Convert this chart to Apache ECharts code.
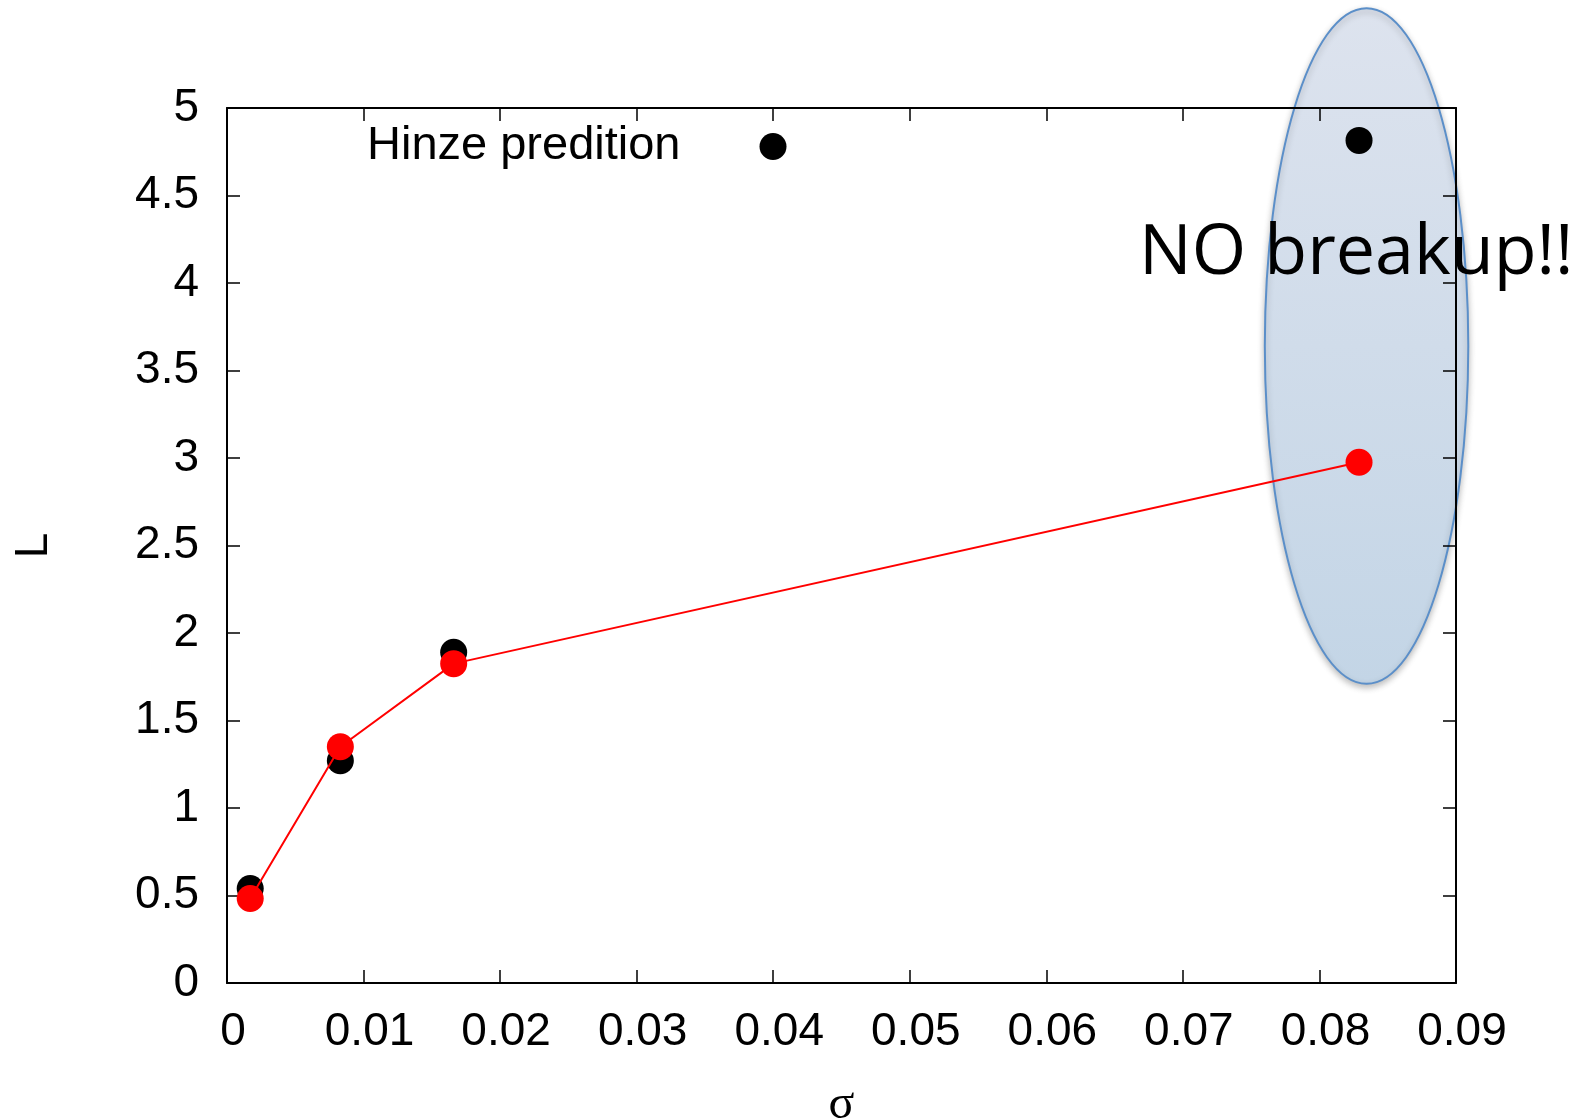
<!DOCTYPE html>
<html>
<head>
<meta charset="utf-8">
<script src="https://cdn.jsdelivr.net/npm/echarts@6/dist/echarts.min.js"></script>
<style>
  html, body { margin: 0; padding: 0; background: #ffffff; }
  #chart { width: 1586px; height: 1120px; }
</style>
</head>
<body>
<div id="chart"></div>
<script>
// Breakup length L versus sigma
const sigmaHinze = [0.0017, 0.0083, 0.0166, 0.0829];
const lengthHinze = [0.54, 1.27, 1.89, 4.815];
const sigmaSim = [0.0017, 0.0083, 0.0166, 0.0829];
const lengthSim = [0.483, 1.35, 1.825, 2.976];
const xTicks = { min: 0, max: 0.09, interval: 0.01 };
const yTicks = { min: 0, max: 5, interval: 0.5 };
const hinzeLabel = 'Hinze predition';
const noteText = 'NO breakup!!';
// Highlighted region around the last sigma (data units: x range, y range)
const noteRegion = { x0: 0.0760, x1: 0.0909, y0: 1.71, y1: 5.57 };

const pairs = (xs, ys) => xs.map((x, i) => [x, ys[i]]);

const axisFont = { fontFamily: 'Liberation Sans', fontSize: 46, color: '#000' };
const lineStyle = { color: '#000', width: 2 };
const tickStyle = { show: true, inside: true, length: 13, lineStyle: { color: '#000', width: 1.5 } };

const chart = echarts.init(document.getElementById('chart'), null, { renderer: 'canvas' });

const option = {
  animation: false,
  backgroundColor: '#ffffff',
  grid: { left: 227, right: 130, top: 108, bottom: 137, containLabel: false, outerBoundsMode: 'none' },
  legend: {
    data: [hinzeLabel],
    left: 362,
    top: 118,
    align: 'right',
    icon: 'circle',
    itemWidth: 27,
    itemHeight: 27,
    textStyle: Object.assign({}, axisFont, { fontSize: 47, padding: [0, 74, 0, 0] }),
    selectedMode: false
  },
  xAxis: [
    {
      type: 'value', position: 'bottom', min: xTicks.min, max: xTicks.max, interval: xTicks.interval,
      axisLine: { show: true, onZero: false, lineStyle: lineStyle },
      axisTick: tickStyle,
      axisLabel: Object.assign({ margin: 26, padding: [0, 0, 0, 12] }, axisFont),
      splitLine: { show: false },
      name: 'σ', nameLocation: 'middle', nameGap: 98,
      nameTextStyle: { fontFamily: 'Liberation Serif', fontSize: 48, color: '#000' }
    },
    {
      type: 'value', position: 'top', min: xTicks.min, max: xTicks.max, interval: xTicks.interval,
      axisLine: { show: true, onZero: false, lineStyle: lineStyle },
      axisTick: tickStyle, axisLabel: { show: false }, splitLine: { show: false }
    }
  ],
  yAxis: [
    {
      type: 'value', position: 'left', min: yTicks.min, max: yTicks.max, interval: yTicks.interval,
      axisLine: { show: true, onZero: false, lineStyle: lineStyle },
      axisTick: tickStyle,
      axisLabel: Object.assign({ margin: 28 }, axisFont),
      splitLine: { show: false },
      name: 'L', nameLocation: 'middle', nameGap: 170, nameRotate: 90,
      nameTextStyle: axisFont
    },
    {
      type: 'value', position: 'right', min: yTicks.min, max: yTicks.max, interval: yTicks.interval,
      axisLine: { show: true, onZero: false, lineStyle: lineStyle },
      axisTick: tickStyle, axisLabel: { show: false }, splitLine: { show: false }
    }
  ],
  series: [
    {
      name: hinzeLabel,
      type: 'scatter',
      data: pairs(sigmaHinze, lengthHinze),
      symbol: 'circle',
      symbolSize: 27,
      itemStyle: { color: '#000', opacity: 1 },
      z: 3
    },
    {
      name: 'simulation',
      type: 'line',
      data: pairs(sigmaSim, lengthSim),
      symbol: 'circle',
      symbolSize: 27,
      showSymbol: true,
      lineStyle: { color: '#ff0000', width: 2 },
      itemStyle: { color: '#ff0000', opacity: 1 },
      z: 4
    }
  ]
};

chart.setOption(option);

// Annotation: shaded ellipse and note, placed from data-space extents
const p0 = chart.convertToPixel({ xAxisIndex: 0, yAxisIndex: 0 }, [noteRegion.x0, noteRegion.y1]);
const p1 = chart.convertToPixel({ xAxisIndex: 0, yAxisIndex: 0 }, [noteRegion.x1, noteRegion.y0]);
const cx = (p0[0] + p1[0]) / 2, cy = (p0[1] + p1[1]) / 2;
const rx = Math.abs(p1[0] - p0[0]) / 2, ry = Math.abs(p1[1] - p0[1]) / 2;

chart.setOption({
  graphic: [
    {
      type: 'ellipse',
      z: -1,
      shape: { cx: cx, cy: cy, rx: rx, ry: ry },
      style: {
        fill: new echarts.graphic.LinearGradient(0, 0, 0, 1, [
          { offset: 0, color: '#dde3ee' },
          { offset: 1, color: '#c3d5e6' }
        ]),
        stroke: '#5b8fc9',
        lineWidth: 2,
        shadowBlur: 6,
        shadowOffsetY: 3,
        shadowColor: 'rgba(0,0,0,0.25)'
      }
    },
    {
      type: 'text',
      z: 100,
      left: 1139,
      top: 219,
      style: {
        text: noteText,
        fontFamily: 'Open Sans',
        fontSize: 70,
        fill: '#000'
      }
    }
  ]
});
</script>
</body>
</html>
